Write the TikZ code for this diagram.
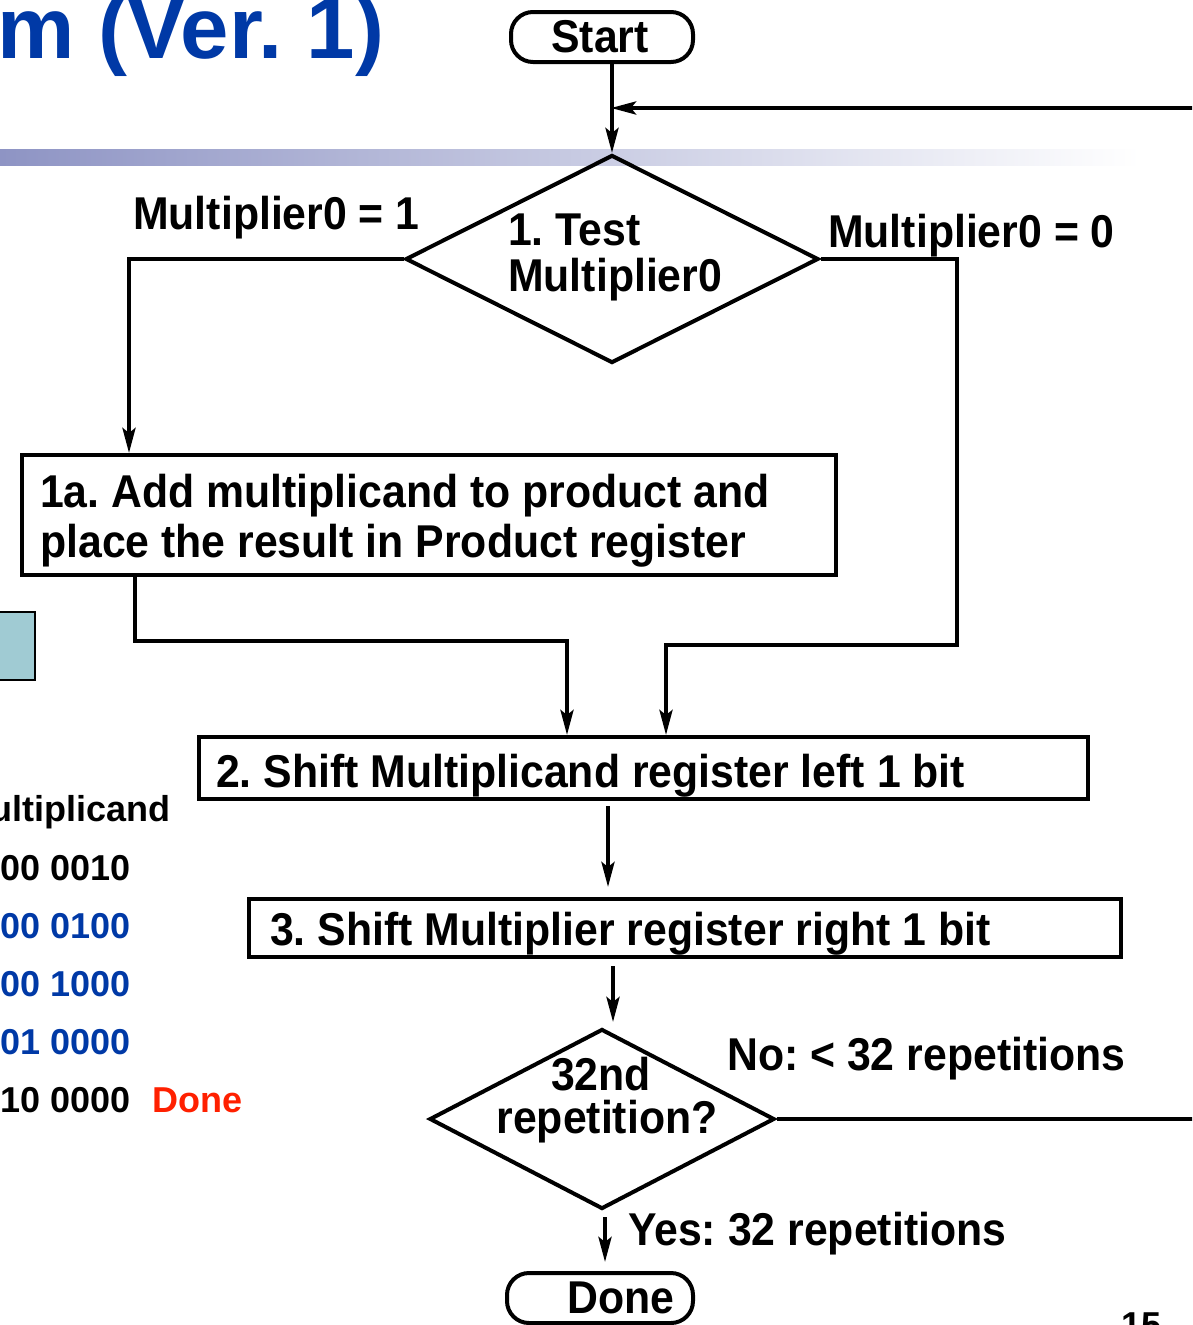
\documentclass[tikz,border=0pt]{standalone}
\usepackage{fontspec}
\setmainfont{Liberation Sans}
\newfontfamily\condsans{Liberation Sans}[FakeStretch=0.93]
\usetikzlibrary{arrows.meta,shapes.geometric}
\definecolor{slideblue}{RGB}{0,57,166}
\definecolor{alertred}{RGB}{255,32,0}
\definecolor{barshade}{RGB}{142,148,196}
\definecolor{tealbox}{RGB}{160,203,211}
\frenchspacing

\begin{document}
\begin{tikzpicture}[x=1pt,y=-1pt,
  flowtext/.style={font=\condsans\bfseries\fontsize{46}{46}\selectfont,inner sep=0pt},
  sidetext/.style={font=\bfseries\fontsize{36}{36}\selectfont,inner sep=0pt},
  stepbox/.style={draw,line width=4pt,rectangle,inner sep=0pt},
  terminal/.style={draw,line width=4pt,rectangle,rounded corners=22pt,inner sep=0pt},
  decision/.style={draw,line width=4pt,diamond,inner sep=0pt},
  link/.style={line width=4pt},
  flow/.style={link,-{Stealth[length=25pt,width=13pt,inset=5pt]}},
]
\useasboundingbox (0,0) rectangle (1192,1325);
\clip (0,0) rectangle (1192,1325);

% slide title and the fading rule under it
\shade[left color=barshade,right color=white] (0,149) rectangle (1140,165);
\node[anchor=base west,text=slideblue,inner sep=0pt,
      font=\bfseries\fontsize{87}{87}\selectfont] (title) at (-3,58) {m (Ver. 1)};

% register sketch and multiplicand values on the left
\node[draw,line width=2.5pt,fill=tealbox,minimum width=50pt,minimum height=68pt] (reg) at (10,646) {};
\node[sidetext,anchor=base east] (mcand) at (171,821) {ultiplicand};
\node[sidetext,anchor=base east] (v1) at (131,880) {00 0010};
\node[sidetext,anchor=base east,text=slideblue] (v2) at (131,938) {00 0100};
\node[sidetext,anchor=base east,text=slideblue] (v3) at (131,996) {00 1000};
\node[sidetext,anchor=base east,text=slideblue] (v4) at (131,1054) {01 0000};
\node[sidetext,anchor=base east] (v5) at (131,1112) {10 0000};
\node[sidetext,anchor=base west,text=alertred] (vdone) at (152,1112) {Done};

% flowchart nodes
\node[terminal,minimum width=182pt,minimum height=50pt] (start) at (602,37) {};
\node[flowtext] (starttext) at (600,37) {Start};

\node[decision,minimum width=413pt,minimum height=208pt] (test) at (612,259) {};
\node[flowtext,anchor=base west] (test1) at (508,245) {1. Test};
\node[flowtext,anchor=base west] (test2) at (508,291) {Multiplier0};

\node[stepbox,minimum width=814pt,minimum height=120pt] (add) at (429,515) {};
\node[flowtext,anchor=base west] (add1) at (40,507) {1a. Add multiplicand to product and};
\node[flowtext,anchor=base west] (add2) at (40,557) {place the result in Product register};

\node[stepbox,minimum width=889pt,minimum height=62pt] (shl) at (643.5,768) {};
\node[flowtext,anchor=base west] (shltext) at (216,787) {2. Shift Multiplicand register left 1 bit};

\node[stepbox,minimum width=872pt,minimum height=58pt] (shr) at (685,928) {};
\node[flowtext,anchor=base west] (shrtext) at (270,945) {3. Shift Multiplier register right 1 bit};

\node[decision,minimum width=345pt,minimum height=180pt] (rep) at (602,1119) {};
\node[flowtext,anchor=base] (rep1) at (601,1090) {32nd};
\node[flowtext,anchor=base] (rep2) at (607,1133) {repetition?};

\node[terminal,minimum width=186pt,minimum height=50pt] (done) at (600,1298) {};
\node[flowtext,anchor=base] (donetext) at (621,1313) {Done};

% branch labels
\node[flowtext,anchor=base west] (lbl1) at (133,229) {Multiplier0 = 1};
\node[flowtext,anchor=base west] (lbl0) at (828,247) {Multiplier0 = 0};
\node[flowtext,anchor=base west] (lblno) at (727,1070) {No: < 32 repetitions};
\node[flowtext,anchor=base west] (lblyes) at (628,1245) {Yes: 32 repetitions};

% slide number
\node[sidetext,anchor=base west] (page) at (1121,1337) {15};

% routing points
\coordinate (leftx) at (129,0);
\coordinate (rightturn) at (957,645);
\coordinate (midR) at (666,0);
\coordinate (leftturn) at (135,641);
\coordinate (midL) at (567,0);
\coordinate (x3) at (608,0);
\coordinate (x4) at (613,0);
\coordinate (x5) at (605,0);
\coordinate (loopx) at (1210,0);
\coordinate (looptop) at (1210,108);
\coordinate (merge) at (611,108);

% connectors
\draw[flow] (start.south -| test.north) -- (test.north);
\draw[flow] (test.west) -| (add.north -| leftx);
\draw[flow] (test.east) -| (rightturn) -| (shl.north -| midR);
\draw[flow] (add.south -| leftturn) -- (leftturn) -| (shl.north -| midL);
\draw[flow,shorten <=5pt,shorten >=10pt] (shl.south -| x3) -- (shr.north -| x3);
\draw[flow,shorten <=7pt,shorten >=5pt] (shr.south -| x4) -- (x4 |- rep.north);
\draw[flow,shorten <=6pt,shorten >=9pt] (rep.south -| x5) -- (done.north -| x5);
\draw[link] (rep.east) -- (rep.east -| loopx);
\draw[flow] (looptop) -- (merge);
\end{tikzpicture}
\end{document}
